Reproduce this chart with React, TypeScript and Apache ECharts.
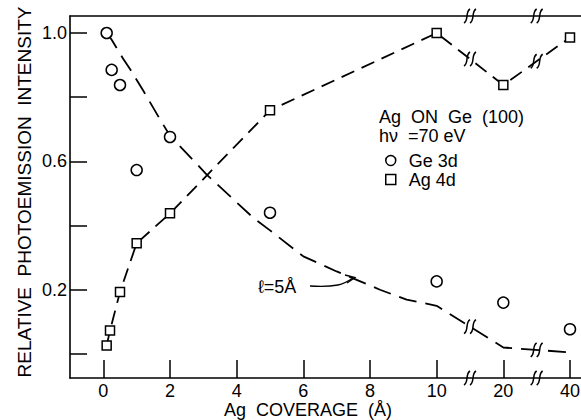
import React, { useEffect, useRef } from "react";
import * as echarts from "echarts";

// Ag coverage (Å) and relative intensities
const geCoverage = [0.1, 0.25, 0.5, 1, 2, 5, 10, 20, 40];
const geIntensity = [1.0, 0.885, 0.838, 0.573, 0.676, 0.44, 0.226, 0.16, 0.077];
const agCoverage = [0.1, 0.2, 0.5, 1, 2, 5, 10, 20, 40];
const agIntensity = [0.026, 0.073, 0.193, 0.345, 0.438, 0.759, 1.0, 0.838, 0.986];
// dashed "l = 5 Å" attenuation curve
const fitCoverage = [0.1, 0.25, 0.6, 0.8, 1.2, 1.7, 2, 3.1, 4.5, 5, 6, 7, 7.6, 8.3, 9.1, 10, 20, 40];
const fitIntensity = [1.0, 0.979, 0.919, 0.888, 0.82, 0.731, 0.68, 0.559, 0.424, 0.385, 0.304, 0.257, 0.231, 0.2, 0.169, 0.15, 0.02, 0.005];

const xTickValues = [0, 2, 4, 6, 8, 10, 20, 40];
const yTickValues = [0, 0.2, 0.4, 0.6, 0.8, 1.0];
const yLabelValues = [0.2, 0.6, 1.0];
const breakBetween = [[10, 20], [20, 40]];

const Y_MIN = -0.075;
const Y_MAX = 1.053;
const X_MIN = -1;
const X_MAX = 14.33;

// broken axis: linear 0..10, then 10, 20, 40 equally spaced
const toAxis = (c: number) => {
  if (c <= 10) return c;
  if (c <= 20) return 10 + (c - 10) / 5;
  return 12 + (c - 20) / 10;
};
const fromAxis = (u: number) => {
  if (u <= 10) return u;
  if (u <= 12) return 10 + (u - 10) * 5;
  return 20 + (u - 12) * 10;
};

const interpAt = (xs: number[], ys: number[], u: number) => {
  const us = xs.map(toAxis);
  for (let i = 0; i < us.length - 1; i++) {
    if (u >= us[i] && u <= us[i + 1]) {
      const t = (u - us[i]) / (us[i + 1] - us[i]);
      return ys[i] + t * (ys[i + 1] - ys[i]);
    }
  }
  return ys[ys.length - 1];
};

const FONT = '"Liberation Sans", Arial, sans-serif';

export default function App() {
  const ref = useRef<HTMLDivElement>(null);
  useEffect(() => {
    if (!ref.current) return;
    const chart = echarts.init(ref.current, null, { renderer: "svg" });

    const breakPositions = breakBetween.map(([a, b]) => (toAxis(a) + toAxis(b)) / 2);
    const breakData: number[][] = [];
    breakPositions.forEach((u) => {
      breakData.push([u, interpAt(agCoverage, agIntensity, u)]);
      breakData.push([u, interpAt(fitCoverage, fitIntensity, u)]);
      breakData.push([u, Y_MIN]);
      breakData.push([u, Y_MAX]);
    });

    const symStyle = { color: "#fff", borderColor: "#000", borderWidth: 1.5, opacity: 1 };

    chart.setOption({
      animation: false,
      backgroundColor: "#fff",
      grid: { left: 70, right: 0, top: 16, bottom: 42, containLabel: false, outerBoundsMode: "none" },
      xAxis: [
        {
          type: "value",
          min: X_MIN,
          max: X_MAX,
          position: "bottom",
          axisLine: { show: true, onZero: false, lineStyle: { color: "#000", width: 1.6 } },
          axisTick: {
            show: true,
            inside: true,
            length: 18,
            customValues: xTickValues.map(toAxis),
            lineStyle: { color: "#000", width: 1.5 },
          },
          axisLabel: {
            show: true,
            customValues: xTickValues.map(toAxis),
            formatter: (v: number) => String(Math.round(fromAxis(v))),
            color: "#000",
            fontSize: 18,
            fontFamily: FONT,
            margin: 4,
          },
          splitLine: { show: false },
        },
        {
          type: "value",
          min: X_MIN,
          max: X_MAX,
          position: "top",
          axisLine: { show: true, onZero: false, lineStyle: { color: "#000", width: 1.6 } },
          axisTick: { show: false },
          axisLabel: { show: false },
          splitLine: { show: false },
        },
      ],
      yAxis: {
        type: "value",
        min: Y_MIN,
        max: Y_MAX,
        axisLine: { show: true, onZero: false, lineStyle: { color: "#000", width: 1.6 } },
        axisTick: {
          show: true,
          inside: true,
          length: 17,
          customValues: yTickValues,
          lineStyle: { color: "#000", width: 1.5 },
        },
        axisLabel: {
          show: true,
          customValues: yLabelValues,
          formatter: (v: number) => v.toFixed(1),
          color: "#000",
          fontSize: 18,
          fontFamily: FONT,
          margin: 3,
        },
        splitLine: { show: false },
      },
      legend: {
        show: true,
        orient: "vertical",
        left: 380,
        top: 146,
        itemWidth: 10,
        itemHeight: 10,
        itemGap: 0,
        selectedMode: false,
        textStyle: { color: "#000", fontSize: 18, fontFamily: FONT, lineHeight: 19, padding: [0, 0, 0, 8] },
        data: [
          { name: "Ge 3d", icon: "circle", itemStyle: symStyle },
          { name: "Ag 4d", icon: "rect", itemStyle: symStyle },
        ],
      },
      series: [
        {
          name: "l = 5 Å",
          type: "line",
          data: fitCoverage.map((c, i) => [toAxis(c), fitIntensity[i]]),
          showSymbol: false,
          symbol: "none",
          lineStyle: { color: "#000", width: 1.8, type: [18, 9] },
          z: 2,
        },
        {
          name: "Ag 4d",
          type: "line",
          data: agCoverage.map((c, i) => [toAxis(c), agIntensity[i]]),
          symbol: "rect",
          symbolSize: 9,
          itemStyle: symStyle,
          lineStyle: { color: "#000", width: 1.8, type: [14, 8] },
          z: 3,
        },
        {
          name: "Ge 3d",
          type: "scatter",
          data: geCoverage.map((c, i) => [toAxis(c), geIntensity[i]]),
          symbol: "circle",
          symbolSize: 11,
          itemStyle: symStyle,
          z: 4,
        },
        {
          name: "breaks",
          type: "custom",
          data: breakData,
          z: 5,
          silent: true,
          renderItem: (params: any, api: any) => {
            const p = api.coord([api.value(0), api.value(1)]);
            const stroke = (dx: number) => ({
              type: "bezierCurve",
              shape: {
                x1: p[0] + dx - 3, y1: p[1] + 7,
                x2: p[0] + dx + 3, y2: p[1] - 7,
                cpx1: p[0] + dx + 2, cpy1: p[1] + 4,
                cpx2: p[0] + dx - 2, cpy2: p[1] - 4,
              },
              style: { stroke: "#000", lineWidth: 1.5, fill: "none" },
            });
            return { type: "group", children: [stroke(-3), stroke(3)] };
          },
        },
      ],
      graphic: [
        {
          type: "text",
          x: 24,
          y: 192,
          rotation: Math.PI / 2,
          style: {
            text: "RELATIVE  PHOTOEMISSION  INTENSITY",
            fill: "#000",
            font: `19px ${FONT}`,
            textAlign: "center",
            textVerticalAlign: "middle",
          },
        },
        {
          type: "text",
          x: 308,
          y: 410,
          style: {
            text: "Ag  COVERAGE  (Å)",
            fill: "#000",
            font: `18px ${FONT}`,
            textAlign: "center",
            textVerticalAlign: "middle",
          },
        },
        {
          type: "text",
          x: 379,
          y: 117,
          style: { text: "Ag  ON  Ge  (100)", fill: "#000", font: `18px ${FONT}`, textVerticalAlign: "middle" },
        },
        {
          type: "text",
          x: 379,
          y: 136,
          style: { text: "hν  =70 eV", fill: "#000", font: `18px ${FONT}`, textVerticalAlign: "middle" },
        },
        {
          type: "text",
          x: 258,
          y: 287,
          style: { text: "ℓ=5Å", fill: "#000", font: `18px ${FONT}`, textVerticalAlign: "middle" },
        },
        {
          type: "polyline",
          shape: { points: [[310, 286], [338, 285], [353, 278]], smooth: 0.4 },
          style: { stroke: "#000", lineWidth: 1.3, fill: "none" },
        },
        {
          type: "polyline",
          shape: { points: [[345, 275], [355, 277.5], [347, 283]] },
          style: { stroke: "#000", lineWidth: 1.3, fill: "none" },
        },
      ],
    });
    return () => chart.dispose();
  }, []);
  return (
    <div
      ref={ref}
      style={{ position: "fixed", left: 0, top: 0, width: 581, height: 420, background: "#fff" }}
    />
  );
}
